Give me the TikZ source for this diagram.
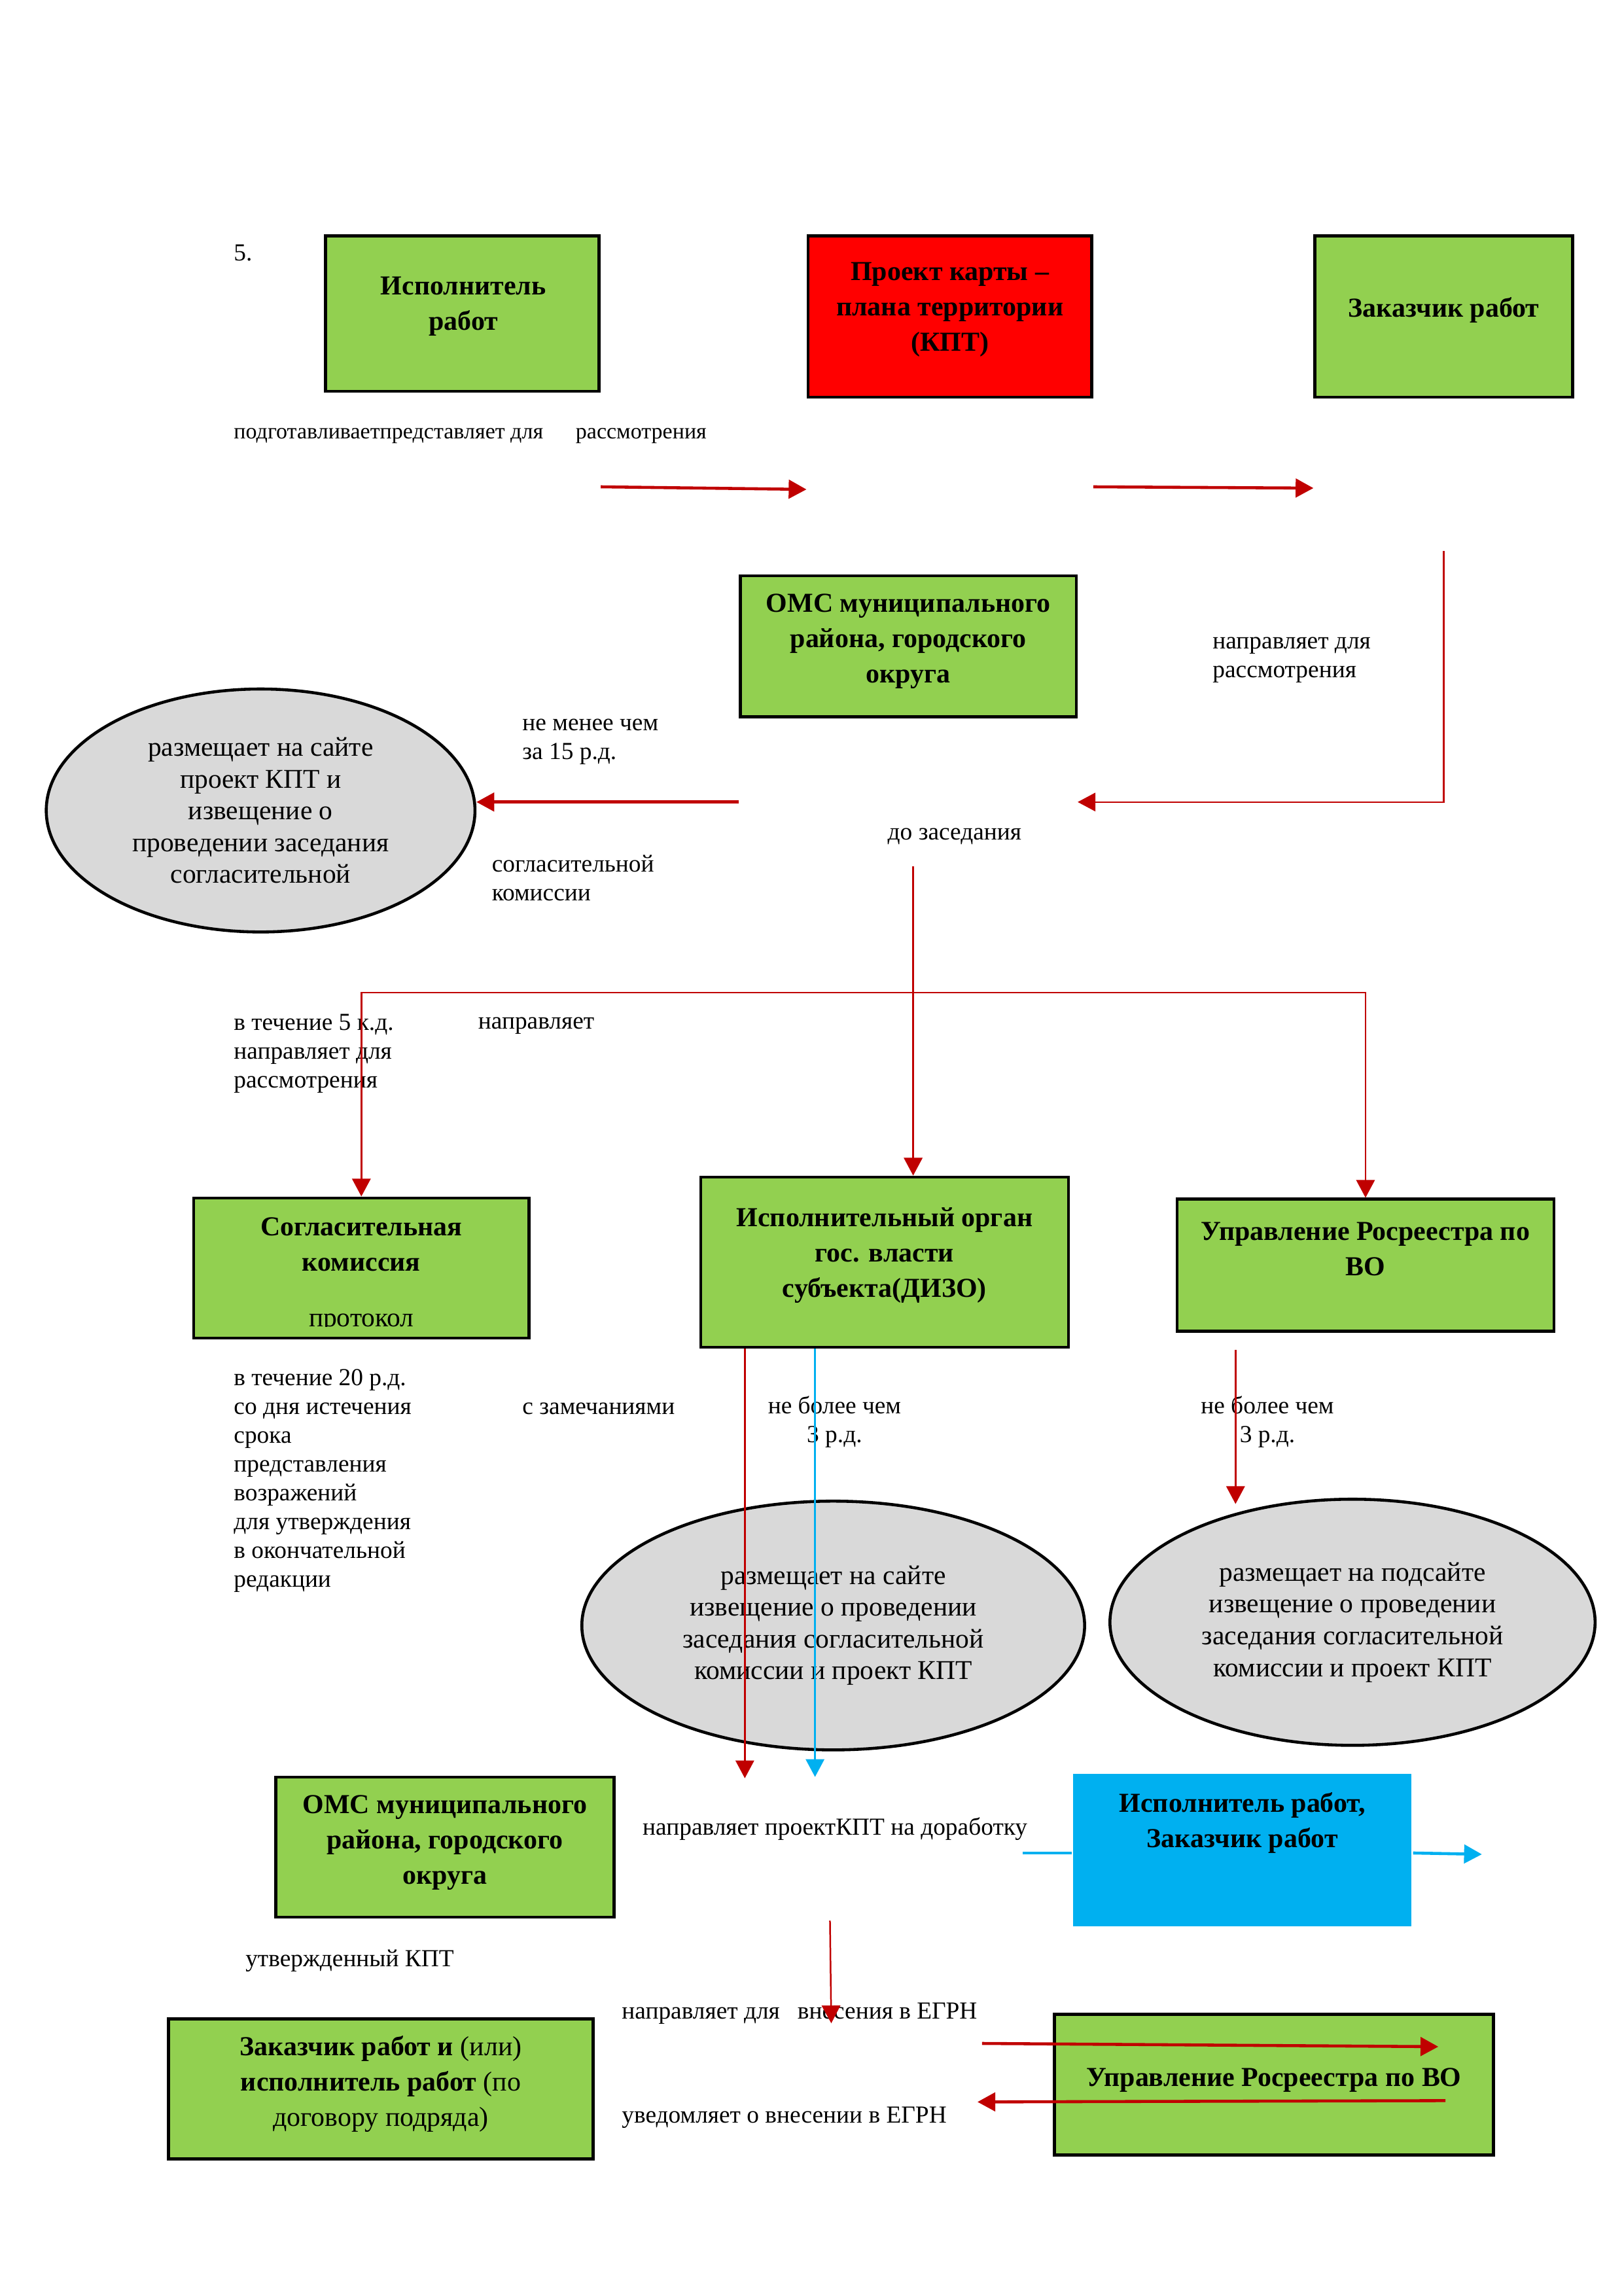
\documentclass[tikz,border=0pt]{standalone}
\usepackage{fontspec}
\setmainfont{Liberation Serif}
\usetikzlibrary{arrows.meta,shapes.geometric,positioning}
\definecolor{grn}{HTML}{92D050}
\definecolor{kptred}{HTML}{FF0000}
\definecolor{sky}{HTML}{00B0F0}
\definecolor{ovalgray}{HTML}{D9D9D9}
\definecolor{dred}{HTML}{C00000}
\tikzset{
    >={Triangle[length=2.3mm,width=2.4mm]},
    box/.style={draw, line width=1.1pt, fill=grn, inner sep=0pt},
    oval/.style={ellipse, draw, line width=1.1pt, fill=ovalgray, inner sep=0pt,
        align=center, font=\fontsize{10}{11.7}\selectfont},
    btxt/.style={align=center, inner sep=0pt, yshift=-0.05cm, font=\bfseries\fontsize{10.1}{13}\selectfont},
    lbl/.style={anchor=west, align=left, inner sep=0pt, yshift=-0.05cm, font=\fontsize{9}{10.6}\selectfont},
    clbl/.style={align=center, inner sep=0pt, yshift=-0.05cm, font=\fontsize{9}{10.6}\selectfont},
    redflow/.style={->, dred, line width=0.6pt},
    redbold/.style={->, dred, line width=1.1pt},
    blueflow/.style={sky, line width=0.6pt},
    bluebold/.style={sky, line width=1.1pt},
}

\begin{document}
\begin{tikzpicture}[x=0.0084017cm, y=-0.0084017cm]
\useasboundingbox (0cm,0cm) rectangle (21cm,-29.7cm);

\node[box, minimum width=3.538cm, minimum height=2.008cm] (Isp) at (711.5,482.5) {};
\node[box, fill=kptred, minimum width=3.672cm, minimum height=2.083cm] (KPT) at (1461.5,487) {};
\node[box, minimum width=3.335cm, minimum height=2.083cm] (Zak) at (2221.5,487) {};
\node[box, minimum width=4.344cm, minimum height=1.823cm] (OMS) at (1397.5,994.5) {};
\node[box, minimum width=4.336cm, minimum height=1.814cm] (Sogl) at (556,1951) {};
\node[box, minimum width=4.756cm, minimum height=2.202cm] (DIZO) at (1361,1942) {};
\node[box, minimum width=4.873cm, minimum height=1.705cm] (Ros) at (2101,1946.5) {};
\node[box, minimum width=4.377cm, minimum height=1.814cm] (OMSb) at (684.5,2842) {};
\node[box, draw=none, fill=sky, minimum width=4.377cm, minimum height=1.974cm] (Blue) at (1911.5,2846.5) {};
\node[box, minimum width=5.495cm, minimum height=1.814cm] (ZakIsp) at (586,3214) {};
\node[box, minimum width=5.680cm, minimum height=1.823cm] (RosB) at (1960,3207.5) {};

\node[oval, minimum width=5.546cm, minimum height=3.143cm] (SiteA) at (401,1247)
    {размещает на сайте\\проект КПТ и\\извещение о\\проведении заседания\\согласительной};
\node[oval, minimum width=6.504cm, minimum height=3.218cm] (SiteB) at (1282,2501)
    {размещает на сайте\\извещение о проведении\\заседания согласительной\\комиссии и проект КПТ};
\node[oval, minimum width=6.276cm, minimum height=3.184cm] (SiteC) at (2081,2496)
    {размещает на подсайте\\извещение о проведении\\заседания согласительной\\комиссии и проект КПТ};

\node[btxt] (tIsp) at (713,465) {Исполнитель\\работ};
\node[btxt] (tKPT) at (1461.5,470) {Проект карты –\\плана территории\\(КПТ)};
\node[btxt] (tZak) at (2221.5,471) {Заказчик работ};
\node[btxt] (tOMS) at (1397.5,981) {ОМС муниципального\\района, городского\\округа};
\node[btxt] (tSogl) at (556,1909) {Согласительная\\комиссия};
\node[btxt] (tDIZO) at (1361,1926) {Исполнительный орган\\гос. власти\\субъекта(ДИЗО)};
\node[btxt] (tRos) at (2101,1916) {Управление Росреестра по\\ВО};
\node[btxt] (tOMSb) at (684.5,2829) {ОМС муниципального\\района, городского\\округа};
\node[btxt] (tBlue) at (1911.5,2799) {Исполнитель работ,\\Заказчик работ};
\node[btxt] (tZakIsp) at (586,3200)
    {Заказчик работ и \textmd{(или)}\\исполнитель работ \textmd{(по}\\\textmd{договору подряда)}};
\node[btxt] (tRosB) at (1960,3194) {Управление Росреестра по ВО};
\begin{scope}
\clip (300,1845) rectangle (812,2041);
\node[clbl, font=\fontsize{10}{11.7}\selectfont] (Prot) at (556,2030) {протокол};
\end{scope}

\node[lbl] (Num) at (359,383) {5.};
\node[lbl, font=\fontsize{8.2}{10.6}\selectfont] (Podg) at (359,665)
    {подготавливаетпредставляет для\hspace{0.42cm}рассмотрения};
\node[lbl] (NaprA) at (1865,1010) {направляет для\\рассмотрения};
\node[lbl] (Menee) at (803,1135) {не менее чем\\за 15 р.д.};
\node[lbl] (SoglK) at (756,1345) {согласительной\\комиссии};
\node[lbl] (DoZas) at (1365,1281) {до заседания};
\node[lbl] (Tech5) at (359,1615) {в течение 5 к.д.\\направляет для\\рассмотрения};
\node[lbl] (NaprB) at (735,1572) {направляет};
\node[lbl] (Tech20) at (359,2272) {в течение 20 р.д.\\со дня истечения\\срока\\представления\\возражений\\для утверждения\\в окончательной\\редакции};
\node[lbl] (Zamech) at (803,2161) {с замечаниями};
\node[clbl] (Bolee) at (1284,2182) {не более чем\\3 р.д.};
\node[clbl] (BoleeR) at (1950,2182) {не более чем\\3 р.д.};
\node[lbl] (Dorab) at (988,2808) {направляет проектКПТ на доработку};
\node[lbl] (Utv) at (377,3011) {утвержденный КПТ};
\node[lbl] (Vnes) at (956,3092) {направляет для\hspace{0.15cm} внесения в ЕГРН};
\node[lbl] (Uved) at (956,3252) {уведомляет о внесении в ЕГРН};

\coordinate (Zas) at (1405,1333);
\coordinate (DorR) at (1146,2736);
\coordinate (DorB) at (1254,2734);
\coordinate (SiteCtop) at (1901,2314);
\coordinate (BlueIn) at (1574,2851);
\coordinate (BlueOut) at (2280,2853);
\coordinate (EgrnA) at (1277,2955);
\coordinate (EgrnB) at (1279,3113);
\coordinate (ToRosA) at (1511,3144);
\coordinate (ToRosB) at (2213,3149);
\coordinate (FromRosA) at (2224,3232);
\coordinate (FromRosB) at (1504,3234);

\draw[redbold] (Isp.east |- 0,749) -- (KPT.west |- 0,753);
\draw[redbold] (KPT.east |- 0,749) -- (Zak.west |- 0,751);
\draw[redflow] (Zak.south |- 0,848) |- (OMS.east |- 0,1234);
\draw[redbold] (OMS.west |- 0,1234) -- (SiteA.east |- 0,1234);
\draw[redflow] (Zas) -- (DIZO.north -| Zas);
\draw[redflow, <->] (Sogl.north) |- (Ros.north |- 0,1527) -- (Ros.north);
\draw[redflow] (DIZO.south -| DorR) -- (DorR);
\draw[blueflow, ->] (DIZO.south -| DorB) -- (DorB);
\draw[redflow, shorten <=0.228cm] (Ros.south -| SiteCtop) -- (SiteCtop);
\draw[bluebold] (BlueIn) -- (Blue.west |- BlueIn);
\draw[bluebold, ->] (Blue.east |- BlueIn) -- (BlueOut);
\draw[redflow] (EgrnA) -- (EgrnB);
\draw[redbold] (ToRosA) -- (ToRosB);
\draw[redbold] (FromRosA) -- (FromRosB);
\end{tikzpicture}
\end{document}
